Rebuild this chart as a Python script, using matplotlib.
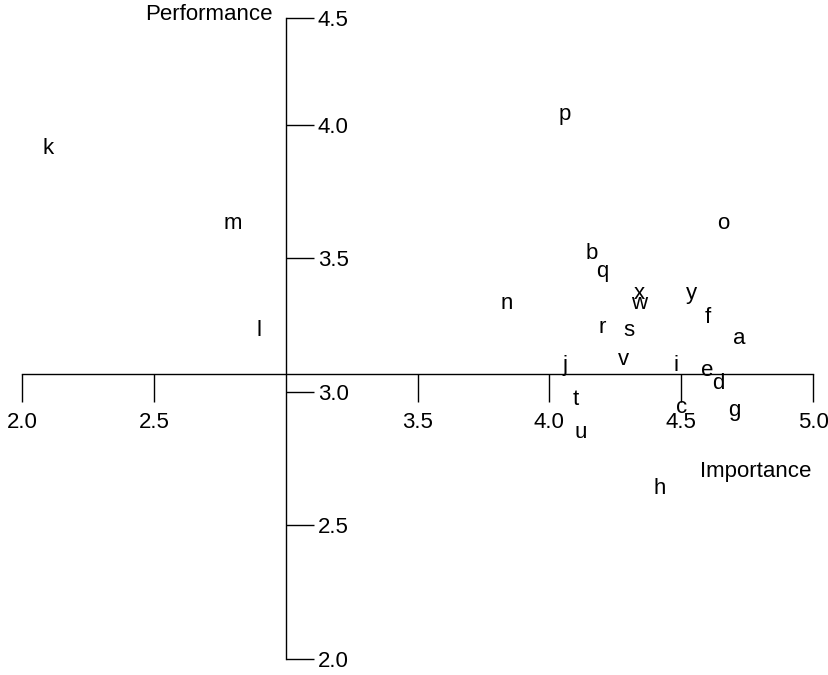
import matplotlib.pyplot as plt

plt.rcParams['font.family'] = ['Liberation Sans', 'DejaVu Sans']

# Данные: метки атрибутов, важность (x) и исполнение (y)
labels = ['a', 'b', 'c', 'd', 'e', 'f', 'g', 'h', 'i', 'j', 'k', 'l', 'm',
          'n', 'o', 'p', 'q', 'r', 's', 't', 'u', 'v', 'w', 'x', 'y']
importance = [4.72, 4.16, 4.50, 4.64, 4.60, 4.60, 4.70, 4.42, 4.48, 4.06, 2.10, 2.90, 2.80,
              3.84, 4.66, 4.06, 4.20, 4.20, 4.30, 4.10, 4.12, 4.28, 4.34, 4.34, 4.54]
performance = [3.20, 3.52, 2.94, 3.03, 3.08, 3.28, 2.93, 2.64, 3.10, 3.10, 3.91, 3.23, 3.63,
               3.33, 3.63, 4.04, 3.45, 3.24, 3.23, 2.97, 2.85, 3.12, 3.33, 3.37, 3.37]

# Точка пересечения осей
cross_x = 3.0
cross_y = 3.067

x_ticks = [2.0, 2.5, 3.5, 4.0, 4.5, 5.0]
x_tick_labels = ['2.0', '2.5', '3.5', '4.0', '4.5', '5.0']
y_ticks = [2.0, 2.5, 3.0, 3.5, 4.0, 4.4]
y_tick_labels = ['2.0', '2.5', '3.0', '3.5', '4.0', '4.5']

fs = 16

fig = plt.figure(figsize=(8.29, 6.75), dpi=100)
ax = fig.add_axes([0, 0, 1, 1])
ax.set_xlim(1.9166, 5.0603)
ax.set_ylim(1.940, 4.468)

# Буквы вместо маркеров
for lab, xv, yv in zip(labels, importance, performance):
    ax.text(xv, yv, lab, ha='center', va='center', fontsize=fs)

# Оси, пересекающиеся внутри поля
ax.spines['top'].set_visible(False)
ax.spines['left'].set_visible(False)
ax.spines['right'].set_position(('data', cross_x))
ax.spines['bottom'].set_position(('data', cross_y))
ax.spines['right'].set_bounds(2.0, 4.4)
ax.spines['bottom'].set_bounds(2.0, 5.0)
for s in ['right', 'bottom']:
    ax.spines[s].set_linewidth(1.0)

ax.yaxis.set_ticks_position('right')
ax.set_xticks(x_ticks)
ax.set_xticklabels(x_tick_labels)
ax.set_yticks(y_ticks)
ax.set_yticklabels(y_tick_labels)
ax.tick_params(axis='x', direction='out', length=20, width=1.0, pad=7, labelsize=fs)
ax.tick_params(axis='y', direction='out', length=20, width=1.0, pad=3, labelsize=fs)

fig.text(273 / 829, 1 - 15 / 675, 'Performance', ha='right', va='center', fontsize=fs)
fig.text(700 / 829, 1 - 472 / 675, 'Importance', ha='left', va='center', fontsize=fs)

fig.savefig('out.png', dpi=100)
